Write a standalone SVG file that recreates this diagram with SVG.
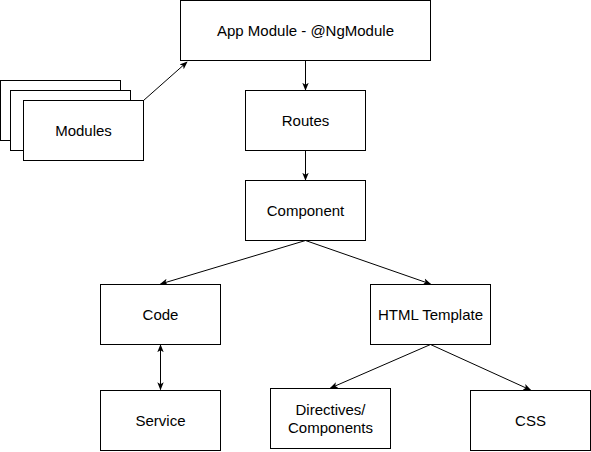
<svg xmlns="http://www.w3.org/2000/svg" width="591" height="452" viewBox="0 0 591 452">
<style>
rect.n{fill:#fff;stroke:#000;stroke-width:1}
text{font-family:"Liberation Sans",Arial,sans-serif;font-size:15px;fill:#000;text-anchor:middle;dominant-baseline:central}
.c{stroke:#000;stroke-width:1;fill:none}
</style>
<defs>
<marker id="a" viewBox="0 0 10 10" refX="9" refY="5" markerWidth="8" markerHeight="8" markerUnits="userSpaceOnUse" orient="auto-start-reverse">
<path d="M0,1 L10,5 L0,9 L2.5,5 Z" fill="#000"/>
</marker>
</defs>
<rect width="591" height="452" fill="#fff"/>
<g id="connectors">
<line class="c" x1="143.5" y1="100.5" x2="187" y2="62" marker-end="url(#a)"/>
<line class="c" x1="305.5" y1="60.5" x2="305.5" y2="90" marker-end="url(#a)"/>
<line class="c" x1="305.5" y1="150.5" x2="305.5" y2="180" marker-end="url(#a)"/>
<line class="c" x1="305.5" y1="240.5" x2="160.5" y2="284" marker-end="url(#a)"/>
<line class="c" x1="305.5" y1="240.5" x2="430.5" y2="284" marker-end="url(#a)"/>
<line class="c" x1="160.5" y1="345" x2="160.5" y2="389.5" marker-start="url(#a)" marker-end="url(#a)"/>
<line class="c" x1="430.5" y1="344.5" x2="330.5" y2="388" marker-end="url(#a)"/>
<line class="c" x1="430.5" y1="344.5" x2="530.5" y2="390" marker-end="url(#a)"/>
</g>
<g id="app-module"><rect class="n" x="180.5" y="0.5" width="250" height="60"/><text x="305.5" y="30.5">App Module - @NgModule</text></g>
<g id="modules">
<rect class="n" x="0.5" y="80.5" width="120" height="60"/>
<rect class="n" x="10.5" y="90.5" width="120" height="60"/>
<rect class="n" x="23.5" y="100.5" width="120" height="60"/>
<text x="83.5" y="130.5">Modules</text>
</g>
<g id="routes"><rect class="n" x="245.5" y="90.5" width="120" height="60"/><text x="305.5" y="120.5">Routes</text></g>
<g id="component"><rect class="n" x="245.5" y="180.5" width="120" height="60"/><text x="305.5" y="210.5">Component</text></g>
<g id="code"><rect class="n" x="100.5" y="284.5" width="120" height="60"/><text x="160.5" y="314.5">Code</text></g>
<g id="html-template"><rect class="n" x="370.5" y="284.5" width="120" height="60"/><text x="430.5" y="314.5">HTML Template</text></g>
<g id="service"><rect class="n" x="100.5" y="390.5" width="120" height="60"/><text x="160.5" y="420.5">Service</text></g>
<g id="directives"><rect class="n" x="270.5" y="388.5" width="120" height="60"/><text x="330.5" y="409.5">Directives/</text><text x="330.5" y="427.5">Components</text></g>
<g id="css"><rect class="n" x="470.5" y="390.5" width="120" height="60"/><text x="530.5" y="420.5">CSS</text></g>
</svg>
